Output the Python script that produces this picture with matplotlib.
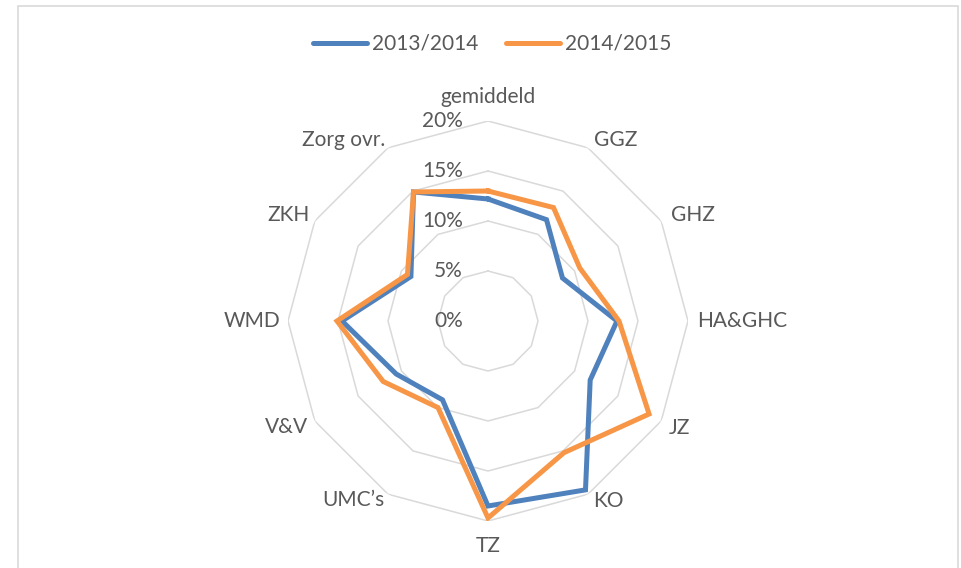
import numpy as np
import matplotlib
matplotlib.use("Agg")
import matplotlib.pyplot as plt
from matplotlib.patches import Rectangle

categories = ["gemiddeld", "GGZ", "GHZ", "HA&GHC", "JZ", "KO", "TZ",
              "UMC\u2019s", "V&V", "WMD", "ZKH", "Zorg ovr."]
series_names = ["2013/2014", "2014/2015"]
values_1314 = [12.2, 11.7, 8.6, 12.9, 11.8, 19.5, 18.5, 9.1, 10.6, 14.6, 8.9, 14.9]
values_1415 = [13.0, 13.1, 10.6, 13.1, 18.6, 15.2, 19.7, 10.0, 12.1, 15.1, 9.3, 14.9]
ring_values = [0, 5, 10, 15, 20]
ring_labels = ["0%", "5%", "10%", "15%", "20%"]

colors = ["#4F81BD", "#F79646"]
grid_color = "#D9D9D9"
text_color = "#595959"
font = ["Lato", "DejaVu Sans"]
plt.rcParams["font.family"] = font
FS = 15

W, H = 962, 568
fig = plt.figure(figsize=(W / 100, H / 100), dpi=100)
cx, cy, R = 488, 321, 200
ax = fig.add_axes([(cx - R) / W, (H - cy - R) / H, 2 * R / W, 2 * R / H],
                  projection="polar")
ax.set_theta_zero_location("N")
ax.set_theta_direction(-1)
ax.set_ylim(0, 20)
ax.grid(False)
ax.spines["polar"].set_visible(False)
ax.set_xticks([])
ax.set_yticks([])
ax.patch.set_alpha(0)

n = len(categories)
theta = np.arange(n) * 2 * np.pi / n
theta_c = np.append(theta, theta[0])

for rv in ring_values[1:]:
    ax.plot(theta_c, [rv] * (n + 1), color=grid_color, lw=1.1, zorder=1)

for vals, col, name in zip([values_1314, values_1415], colors, series_names):
    v = np.append(vals, vals[0])
    ax.plot(theta_c, v, color=col, lw=3.6, zorder=3, label=name,
            solid_joinstyle="miter")

# radial tick labels
for rv, lab in zip(ring_values, ring_labels):
    ax.annotate(lab, xy=(0, rv), xytext=(-25, 0), textcoords="offset pixels",
                ha="right", va="center", fontsize=FS, color=text_color, zorder=4)

# category labels
offsets = [(0, 24, "center"), (6, 8, "left"), (10, 6, "left"), (9, 0, "left"),
           (8, -7, "left"), (5, -7, "left"), (0, -25, "center"),
           (-3, -6, "right"), (-7, -6, "right"), (-8, 0, "right"),
           (-5, 6, "right"), (-3, 8, "right")]
for t, lab, (dx, dy, ha) in zip(theta, categories, offsets):
    ax.annotate(lab, xy=(t, 20), xytext=(dx, dy), textcoords="offset pixels",
                ha=ha, va="center", fontsize=FS, color=text_color)

leg = fig.legend(loc="center", bbox_to_anchor=(492 / W, 1 - 44 / H), ncol=2,
                 frameon=False, fontsize=FS, handlelength=2.6,
                 handletextpad=0.25, columnspacing=1.3, labelcolor=text_color)
for line in leg.get_lines():
    line.set_linewidth(3.6)
    line.set_solid_capstyle("round")

fig.patches.append(Rectangle((18 / W, -0.1), (958 - 18) / W, 1.1 - 6 / H,
                             transform=fig.transFigure, fill=False,
                             edgecolor=grid_color, lw=1.2))

fig.savefig("out.png", dpi=100)
